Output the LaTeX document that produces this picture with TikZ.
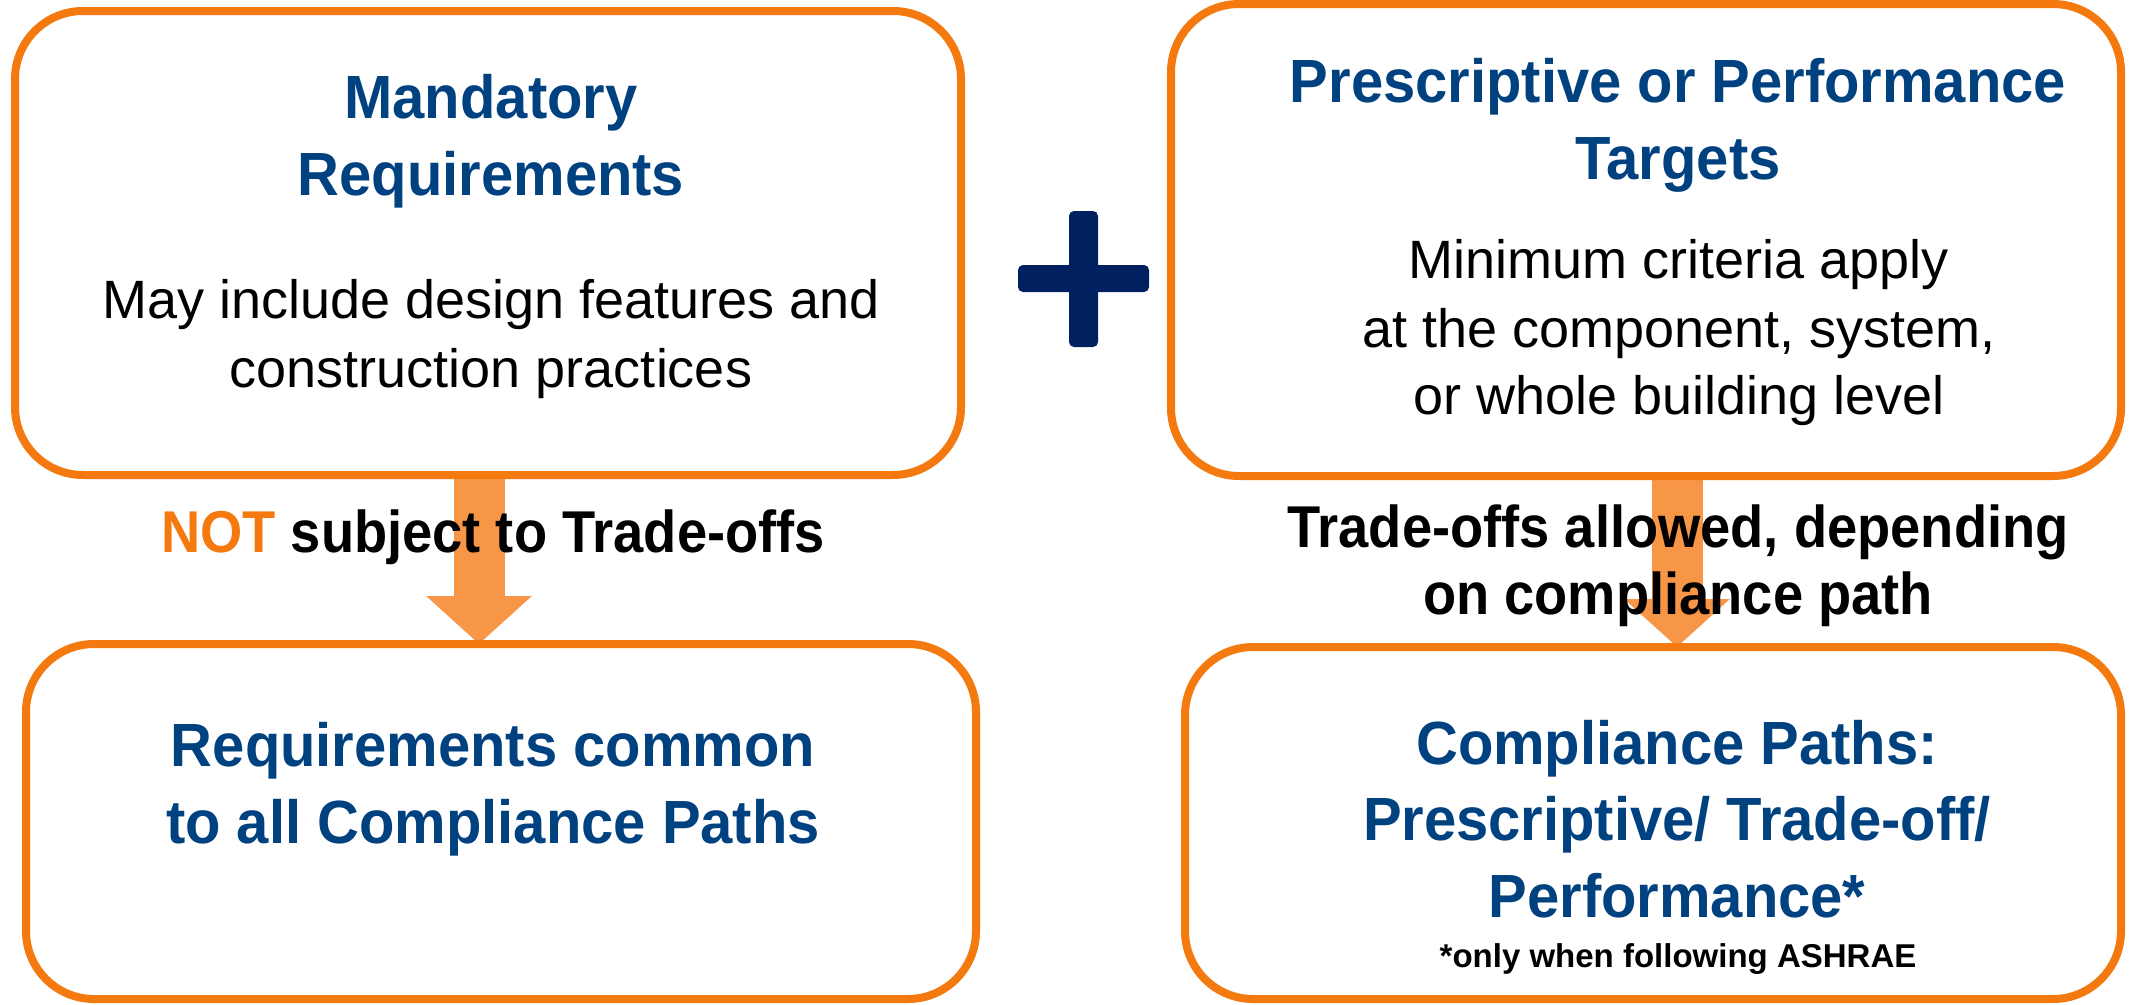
\documentclass[tikz,border=0pt]{standalone}
\usepackage{fontspec}
\setmainfont{Liberation Sans}
\newfontfamily\titlefont{Liberation Sans}[FakeStretch=0.95]
\newfontfamily\lblfont{Liberation Sans}[FakeStretch=0.92]
\usetikzlibrary{arrows.meta,backgrounds}
\definecolor{border}{RGB}{244,121,14}
\definecolor{arrowfill}{RGB}{247,150,70}
\definecolor{titleblue}{RGB}{0,65,128}
\definecolor{plusnavy}{RGB}{0,32,96}
\tikzset{
  box/.style={draw=border, line width=8pt, fill=white, rounded corners=68pt,
    inner sep=0pt, outer sep=0pt},
  titletext/.style={anchor=base, inner sep=0pt, text=titleblue,
    font=\titlefont\bfseries\fontsize{61}{73}\selectfont},
  bodytext/.style={anchor=base, inner sep=0pt,
    font=\fontsize{54}{65}\selectfont},
  lbltext/.style={anchor=base, inner sep=0pt,
    font=\lblfont\bfseries\fontsize{59}{70}\selectfont},
  notetext/.style={anchor=base, inner sep=0pt,
    font=\bfseries\fontsize{33}{40}\selectfont},
  bigarrow/.style={draw=arrowfill, line width=51pt,
    -{Triangle[width=103pt,length=48pt]}},
  plusbar/.style={fill=plusnavy, rounded corners=5pt, inner sep=0pt, outer sep=0pt}
}
\begin{document}
\begin{tikzpicture}[x=1pt,y=-1pt]
\useasboundingbox (0,0) rectangle (2132,1004);

% boxes
\node[box, minimum width=946pt, minimum height=464pt] (mand) at (488,243) {};
\node[box, minimum width=950pt, minimum height=472pt] (presc) at (1646,240) {};
\node[box, minimum width=950pt, minimum height=355pt] (common) at (501,821.5) {};
\node[box, minimum width=936pt, minimum height=352pt] (paths) at (1653,823) {};

% arrows behind boxes
\coordinate (la) at (479,560);
\coordinate (ra) at (1677,560);
\begin{pgfonlayer}{background}
\fill[white] (0,0) rectangle (2132,1004);
\draw[bigarrow] (mand.south -| la) -- (common.north -| la);
\draw[bigarrow] (presc.south -| ra) -- (paths.north -| ra);
\end{pgfonlayer}

% plus sign
\node[plusbar, minimum width=29pt, minimum height=136pt] (plusv) at (1083.5,279) {};
\node[plusbar, minimum width=131pt, minimum height=27pt] (plush) at (1083.5,278.5) {};

% box 1 text
\node[titletext] (m1) at (491,118) {Mandatory};
\node[titletext] (m2) at (491,195) {Requirements};
\node[bodytext] (m3) at (491,318) {May include design features and};
\node[bodytext] (m4) at (491,387) {construction practices};

% box 2 text
\node[titletext] (p1) at (1678,102) {Prescriptive or Performance};
\node[titletext] (p2) at (1678,179) {Targets};
\node[bodytext] (p3) at (1679,278) {Minimum criteria apply};
\node[bodytext] (p4) at (1679,347) {at the component, system,};
\node[bodytext] (p5) at (1679,414) {or whole building level};

% arrow labels
\node[lbltext] (l1) at (493,552) {\textcolor{border}{NOT} subject to Trade-offs};
\node[lbltext] (r1) at (1678,547) {Trade-offs allowed, depending};
\node[lbltext] (r2) at (1678,614) {on compliance path};

% box 3 text
\node[titletext] (c1) at (493,766) {Requirements common};
\node[titletext] (c2) at (493,843) {to all Compliance Paths};

% box 4 text
\node[titletext] (q1) at (1677,764) {Compliance Paths:};
\node[titletext] (q2) at (1677,840) {Prescriptive/ Trade-off/};
\node[titletext] (q3) at (1677,917) {Performance*};
\node[notetext] (q4) at (1678,967) {*only when following ASHRAE};
\end{tikzpicture}
\end{document}
